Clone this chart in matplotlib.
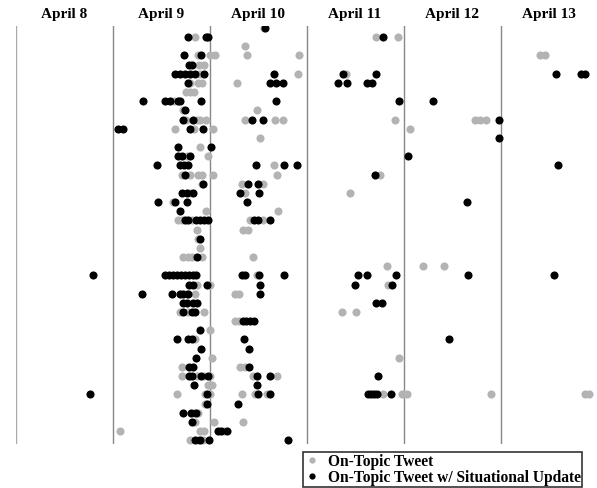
import matplotlib.pyplot as plt
from matplotlib.lines import Line2D

# days shown as columns; x values are hours since April 8, 00:00
days = ['April 8', 'April 9', 'April 10', 'April 11', 'April 12', 'April 13']

# one list per user (row, top to bottom)
on_topic = [
    [61.5],
    [44.4, 89.2, 94.6],
    [56.8],
    [45.2, 48.1, 49.4, 57.3, 70.1, 129.8, 131.0],
    [45.4, 46.6],
    [45.7, 69.9, 81.8],
    [43.2, 45.2, 46.1, 54.8],
    [42.2, 43.2, 44.2],
    [39.2],
    [41.4, 59.8],
    [42.2, 44.9, 45.7, 47.1, 56.8, 64.2, 66.2, 93.9, 113.7, 114.9, 116.4],
    [39.5, 44.2, 48.9, 97.6],
    [60.5],
    [45.7],
    [42.4, 47.6],
    [64.0],
    [41.2, 43.2, 45.2, 46.1, 48.9, 64.7, 90.2],
    [46.1, 56.0, 61.2],
    [43.2, 56.8, 82.8],
    [39.0],
    [47.1, 65.0],
    [40.2, 41.2, 43.7, 58.0, 61.2],
    [44.9, 56.3, 57.5],
    [45.2],
    [45.7],
    [41.4, 42.7, 43.7, 46.1, 58.8],
    [91.9, 100.8, 106.0],
    [59.8],
    [44.9, 48.1, 92.2],
    [42.4, 44.4, 54.3, 55.3],
    [],
    [40.7, 42.7, 46.6, 80.8, 84.2],
    [54.3, 55.3],
    [48.1],
    [44.4],
    [],
    [48.6, 94.9],
    [41.2, 55.6, 56.8],
    [41.2, 44.9, 46.6, 48.1, 58.8, 64.7],
    [47.6, 48.6],
    [40.0, 46.9, 48.1, 56.0, 59.3, 62.2, 90.9, 95.6, 96.9, 117.7, 140.9, 141.9],
    [46.9],
    [44.2, 45.2],
    [44.4, 49.1, 56.3],
    [25.9, 45.7, 46.6, 51.6],
    [43.2, 45.2, 46.4],
]

situational = [
    [61.7],
    [42.7, 47.1, 47.6, 90.9],
    [],
    [41.7, 45.9],
    [42.9, 43.7],
    [39.5, 40.7, 41.9, 43.2, 44.4, 46.6, 64.0, 81.0, 89.2, 133.7, 139.9, 140.9],
    [42.7, 63.0, 64.5, 66.2, 79.8, 82.0, 87.0, 88.2],
    [],
    [31.6, 37.0, 38.2, 40.2, 40.7, 45.9, 64.5, 94.9, 103.3],
    [41.9],
    [41.4, 43.9, 58.5, 61.2, 119.6],
    [25.4, 26.6, 43.2, 46.4],
    [119.6],
    [40.2, 48.4],
    [40.2, 41.2, 43.2, 97.1],
    [35.0, 40.7, 41.7, 42.7, 59.5, 66.4, 69.7, 134.2],
    [41.9, 89.0],
    [46.4, 57.5, 60.0],
    [41.2, 42.4, 43.9, 55.6, 60.2],
    [35.3, 39.5, 42.4, 57.3, 111.7],
    [40.7],
    [41.9, 42.7, 44.7, 45.7, 46.6, 47.6, 59.0, 60.0, 63.0],
    [],
    [45.7],
    [],
    [44.9],
    [],
    [19.2, 37.0, 38.0, 39.0, 40.0, 40.9, 41.9, 42.9, 43.9, 44.7,
     56.0, 56.8, 60.2, 66.4, 84.7, 87.0, 94.1, 112.0, 133.2],
    [42.9, 43.9, 47.4, 60.5, 84.0, 93.2],
    [31.3, 38.7, 40.7, 41.4, 42.7, 60.5],
    [41.4, 42.4, 43.9, 44.9, 89.2, 90.7],
    [41.4, 43.7, 44.4],
    [56.3, 57.0, 58.0, 59.0],
    [45.7],
    [40.0, 42.7, 43.7, 56.5, 107.3],
    [45.9, 57.8],
    [44.7],
    [42.9, 43.9, 57.8],
    [42.9, 43.7, 45.9, 47.6, 59.8, 63.0, 89.7],
    [44.2, 59.8],
    [18.4, 47.4, 60.0, 63.0, 87.2, 88.0, 88.7, 89.4, 92.9],
    [47.4, 55.1],
    [41.4, 43.4, 44.7],
    [43.7],
    [50.1, 50.9, 52.3],
    [44.4, 45.7, 47.9, 67.4],
]

GREY = '#b3b3b3'
serif = ['Liberation Serif', 'DejaVu Serif']

fig = plt.figure(figsize=(5.97, 4.89), dpi=100)
ax = fig.add_axes([15.5 / 597, 44 / 489, 581.5 / 597, 418 / 489])

n = len(on_topic)
for i in range(n):
    ax.scatter(on_topic[i], [i] * len(on_topic[i]), s=34, color=GREY, linewidths=0, zorder=2)
for i in range(n):
    ax.scatter(situational[i], [i] * len(situational[i]), s=34, color='black', linewidths=0, zorder=3)

for d in range(len(days)):
    ax.axvline(d * 24, color='#888888' if d else '#aaaaaa', lw=1, zorder=1)
    ax.text(d * 24 + 12, -1.6, days[d], ha='center', va='center',
            fontsize=11, fontweight='bold', family=serif)

ax.set_xlim(0, 24 * 581.5 / 97)
ax.set_ylim(45.41, -0.22)
ax.axis('off')

handles = [
    Line2D([], [], ls='none', marker='o', ms=4.5, color=GREY, mec='none'),
    Line2D([], [], ls='none', marker='o', ms=4.5, color='black', mec='none'),
]
leg = fig.legend(handles, ['On-Topic Tweet', 'On-Topic Tweet w/ Situational Update'],
                 loc='lower left', bbox_to_anchor=(303 / 597, 1 / 489),
                 prop={'family': serif, 'weight': 'bold', 'size': 11.2},
                 frameon=True, fancybox=False, edgecolor='black',
                 borderpad=0.1, labelspacing=0.0, handlelength=1.0,
                 handletextpad=0.5, borderaxespad=0)
leg.get_frame().set_linewidth(1.2)

fig.savefig('out.png', dpi=100)
